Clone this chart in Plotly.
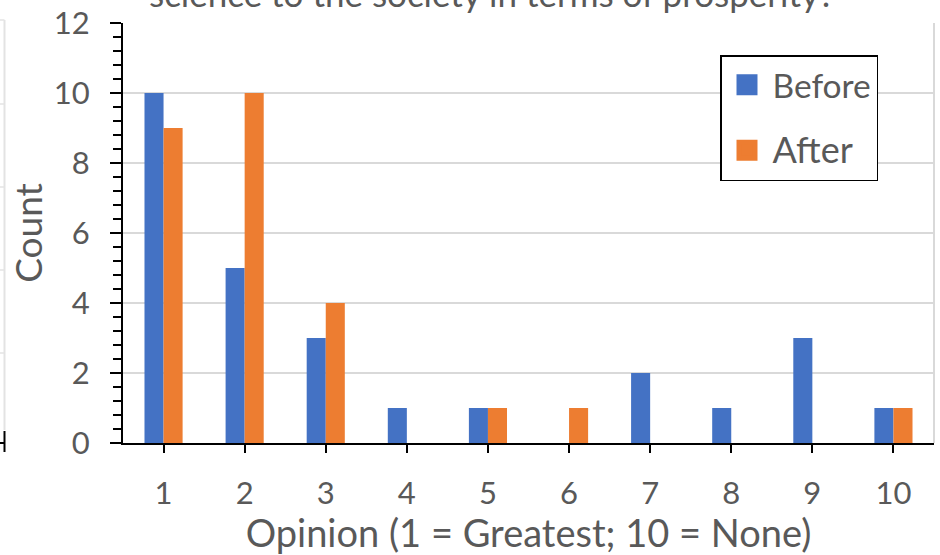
import plotly.graph_objects as go

# ---- data ----
categories = [1, 2, 3, 4, 5, 6, 7, 8, 9, 10]
tick_labels = ["1", "2", "3", "4", "5", "6", "7", "8", "9", "10"]
before_counts = [10, 5, 3, 1, 1, 0, 2, 1, 3, 1]
after_counts = [9, 10, 4, 0, 1, 1, 0, 0, 0, 1]
y_ticks = [0, 2, 4, 6, 8, 10, 12]
series_names = ["Before", "After"]
title_visible = "science to the society in terms of prosperity?"
x_title = "Opinion (1 = Greatest; 10 = None)"
y_title = "Count"

# ---- style ----
BLUE = "#4472C4"
ORANGE = "#ED7D31"
TXT = "#595959"
GRID = "#D9D9D9"
FONT = "Lato"

boundaries = [c - 0.5 for c in categories] + [categories[-1] + 0.5]
xr = [boundaries[0], boundaries[-1]]
yr = [y_ticks[0], y_ticks[-1]]

fig = go.Figure()
fig.add_trace(go.Bar(x=categories, y=before_counts, name=series_names[0],
                     marker=dict(color=BLUE, line_width=0), showlegend=False))
fig.add_trace(go.Bar(x=categories, y=after_counts, name=series_names[1],
                     marker=dict(color=ORANGE, line_width=0), showlegend=False))
# legend swatches
fig.add_trace(go.Scatter(x=[None], y=[None], mode="markers", name=series_names[0],
                         marker=dict(symbol="square", size=16, color=BLUE,
                                     line=dict(color=BLUE, width=5)),
                         legendgroup="g1"))
fig.add_trace(go.Scatter(x=[None], y=[None], mode="markers",
                         name="<span style='font-size:36px'>" + series_names[1] + "</span>",
                         marker=dict(symbol="square", size=16, color=ORANGE,
                                     line=dict(color=ORANGE, width=5)),
                         legendgroup="g2"))

fig.update_layout(
    width=940, height=555,
    margin=dict(l=123, r=6, t=23, b=112),
    paper_bgcolor="white", plot_bgcolor="white",
    font=dict(family=FONT, color=TXT),
    barmode="group", bargap=0.53, bargroupgap=0,
    showlegend=True,
    legend=dict(x=(720 - 123) / 811, y=(443 - 55) / 420, xanchor="left", yanchor="top",
                bordercolor="black", borderwidth=1.5, bgcolor="white",
                font=dict(family=FONT, size=33.5, color=TXT),
                traceorder="grouped", tracegroupgap=19, itemsizing="trace",
                itemwidth=41),
    xaxis=dict(range=xr, tickmode="array", tickvals=categories, ticktext=tick_labels,
               ticks="outside", ticklen=8, tickwidth=2, tickcolor="black",
               showline=True, linecolor="black", linewidth=2,
               showgrid=False, zeroline=False, automargin=False,
               tickfont=dict(family=FONT, size=31, color=TXT), ticklabelstandoff=14,
               title=dict(text=x_title, font=dict(family=FONT, size=38, color=TXT), standoff=7)),
    xaxis2=dict(range=xr, overlaying="x", anchor="y", side="bottom",
                tickmode="array", tickvals=boundaries, ticks="outside", ticklen=12,
                tickwidth=2, tickcolor="black", showticklabels=False, automargin=False,
                showline=False, showgrid=False, zeroline=False),
    xaxis3=dict(range=xr, overlaying="x", anchor="y", side="bottom",
                tickmode="array", tickvals=boundaries, ticks="inside", ticklen=11,
                tickwidth=2, tickcolor="black", showticklabels=False, automargin=False,
                showline=False, showgrid=False, zeroline=False),
    yaxis=dict(range=yr, tickmode="array", tickvals=y_ticks,
               ticks="outside", ticklen=11, tickwidth=2, tickcolor="black",
               showline=True, linecolor="black", linewidth=2,
               showgrid=True, gridcolor=GRID, gridwidth=1.5, zeroline=False,
               automargin=False,
               minor=dict(dtick=0.4, tick0=0, ticks="outside", ticklen=8, tickwidth=2,
                          tickcolor="black", showgrid=False),
               tickfont=dict(family=FONT, size=31, color=TXT), ticklabelstandoff=14,
               title=dict(text=y_title, font=dict(family=FONT, size=37, color=TXT), standoff=0)),
    yaxis2=dict(range=yr, overlaying="y", anchor="x", side="left",
                tickmode="array", tickvals=y_ticks, ticks="inside", ticklen=12,
                tickwidth=2, tickcolor="black", showticklabels=False, automargin=False,
                showline=False, showgrid=False, zeroline=False),
)

# cut-off chart title at the very top
fig.add_annotation(text=title_visible, xref="paper", yref="paper",
                   x=(492 - 123) / 811, y=(443 - 16) / 420, xanchor="center", yanchor="bottom",
                   showarrow=False, font=dict(family=FONT, size=35, color=TXT))

# right border of plot area
fig.add_shape(type="line", xref="paper", yref="paper", x0=1, x1=1, y0=0, y1=1,
              line=dict(color=GRID, width=2), layer="below")

# remnants of the neighbouring chart at the far left edge
px = lambda v: (v - 123) / 811
py = lambda v: (443 - v) / 420
fig.add_shape(type="line", xref="paper", yref="paper", x0=px(4.5), x1=px(4.5),
              y0=py(430), y1=py(20), line=dict(color="#E3E3E3", width=2))
for gy in [20, 104, 187, 270, 353]:
    fig.add_shape(type="line", xref="paper", yref="paper", x0=px(-2), x1=px(4.5),
                  y0=py(gy), y1=py(gy), line=dict(color="#E3E3E3", width=1.5))
fig.add_shape(type="line", xref="paper", yref="paper", x0=px(4.5), x1=px(4.5),
              y0=py(452), y1=py(431), line=dict(color="black", width=2))
fig.add_shape(type="line", xref="paper", yref="paper", x0=px(-2), x1=px(4.5),
              y0=py(443), y1=py(443), line=dict(color="black", width=2))

fig.write_html("out.html", config={"displayModeBar": False},
               post_script="document.body.style.margin='0';document.body.style.overflow='hidden';")
